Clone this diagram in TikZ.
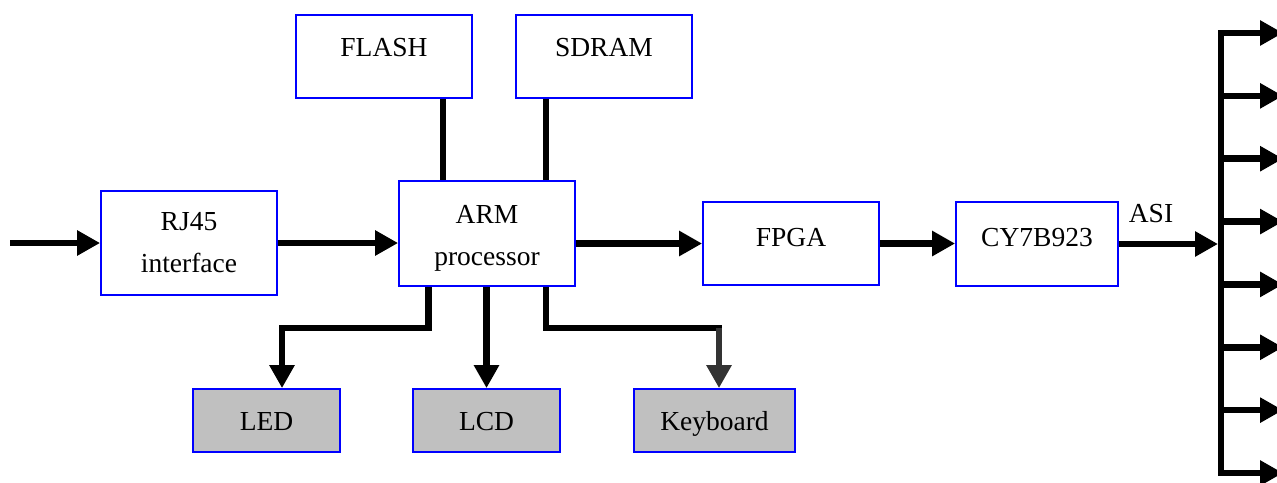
\documentclass[tikz,border=0pt]{standalone}
\usepackage{fontspec}
\setmainfont{Liberation Serif}
\usetikzlibrary{arrows.meta,calc}
\definecolor{boxgray}{RGB}{192,192,192}
\definecolor{darkarrow}{RGB}{51,51,51}
\begin{document}
\begin{tikzpicture}[x=1pt,y=-1pt,
  box/.style={draw=blue,line width=1.8pt,rectangle,inner sep=0pt,
    font=\fontsize{27.5}{42}\selectfont,align=center},
  topbox/.style={box,text height=19.5pt,text depth=20pt},
  midbox/.style={box,text height=19.5pt,text depth=14pt},
  lowbox/.style={box,fill=boxgray,text height=19.5pt,text depth=0pt},
  conn/.style={line width=6.5pt,black},
  arr/.style={conn,-{Triangle[length=23pt,width=24pt]}},
  lbl/.style={font=\fontsize{27.5}{42}\selectfont,inner sep=0pt}]
\clip (0,0) rectangle (1277,482);
% boxes
\node[topbox,minimum width=176pt,minimum height=83pt] (flash) at (384,56.5) {FLASH};
\node[topbox,minimum width=176pt,minimum height=83pt] (sdram) at (604,56.5) {SDRAM};
\node[box,minimum width=176pt,minimum height=104pt] (rj) at (189,243) {RJ45\\interface};
\node[box,minimum width=176pt,minimum height=105pt] (arm) at (487,233.5) {\rule{0pt}{27.5pt}ARM\\processor};
\node[midbox,minimum width=176pt,minimum height=83pt] (fpga) at (791,243.5) {FPGA};
\node[midbox,minimum width=162pt,minimum height=84pt] (cy) at (1037,244) {CY7B923};
\node[lowbox,minimum width=147pt,minimum height=63pt] (led) at (266.5,420.5) {LED};
\node[lowbox,minimum width=147pt,minimum height=63pt] (lcd) at (486.5,420.5) {LCD};
\node[lowbox,minimum width=161pt,minimum height=63pt] (kb) at (714.5,420.5) {Keyboard};
\node[lbl] (asi) at (1151,214) {ASI};
% coordinates
\coordinate (in) at (10,243);
\coordinate (busin) at (1218,244);
\coordinate (bt) at (1221,33);
\coordinate (bb) at (1221,473);
\coordinate (ledc) at (282,328);
\coordinate (kbc) at (719,328);
% main chain
\draw[arr] (in) -- (rj.west);
\draw[arr] (rj.east) -- (rj.east -| arm.west);
\draw[arr] (fpga.west -| arm.east) -- (fpga.west);
\draw[arr] (fpga.east) -- (fpga.east -| cy.west);
\draw[arr] (cy.east) -- (busin);
% memories
\draw[conn] ([xshift=59pt]flash.south) -- ([xshift=59pt]flash.south |- arm.north);
\draw[conn] ([xshift=-58pt]sdram.south) -- ([xshift=-58pt]sdram.south |- arm.north);
% peripherals
\draw[arr] ([xshift=-58.5pt]arm.south) |- (ledc) -- (ledc |- led.north);
\draw[arr] (arm.south -| lcd.north) -- (lcd.north);
\draw[conn] ([xshift=59pt]arm.south) |- ([xshift=3pt]kbc);
\draw[arr,darkarrow] (kbc) -- (kbc |- kb.north);
% bus
\draw[conn,line cap=rect] (bt) -- (bb);
\foreach \i in {0,...,7} {
  \coordinate (s\i) at (1218,{33+\i*62.857});
  \coordinate (t\i) at (1283,{33+\i*62.857});
  \draw[arr] (s\i) -- (t\i);
}
\end{tikzpicture}
\end{document}
